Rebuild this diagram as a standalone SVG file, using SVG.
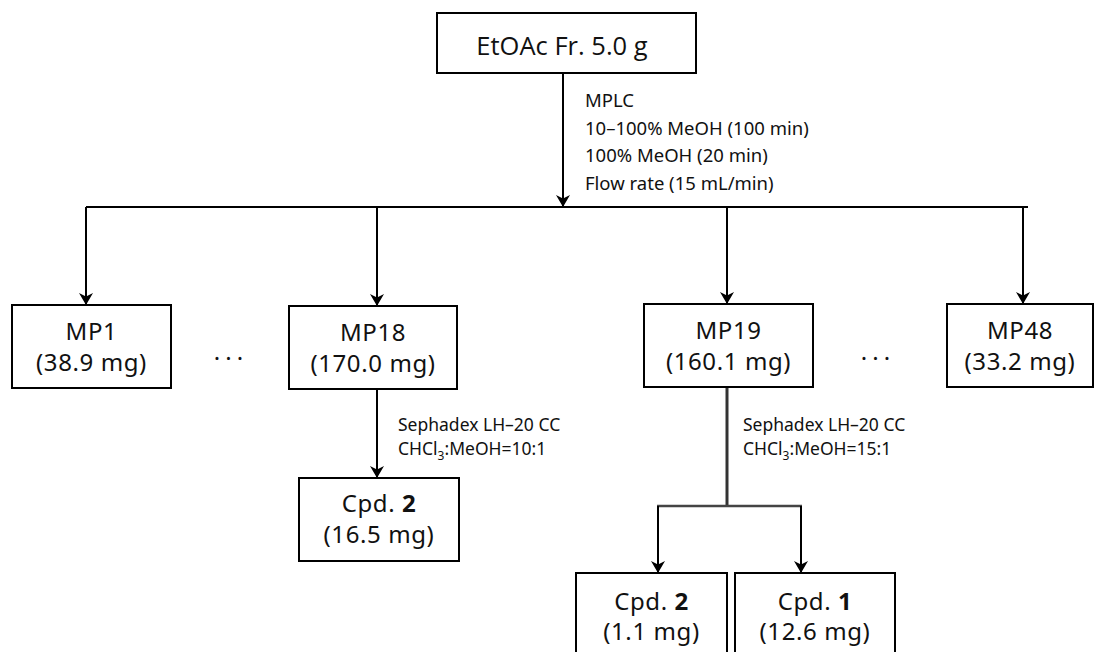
<svg xmlns="http://www.w3.org/2000/svg" width="1097" height="652" viewBox="0 0 1097 652">
<defs>
<marker id="arr" viewBox="0 0 12 14" refX="11" refY="7" markerWidth="12" markerHeight="14" markerUnits="userSpaceOnUse" orient="auto">
<path d="M0,0 L12,7 L0,14 L3.5,7 Z" fill="#000"/>
</marker>
<style>
.box{fill:#fff;stroke:#000;stroke-width:2}
.t{font-family:"Noto Sans","DejaVu Sans",sans-serif;font-size:24px;fill:#111;text-anchor:middle;letter-spacing:0.6px}
.top{font-family:"Open Sans","Liberation Sans",sans-serif;font-size:25.5px;fill:#111;text-anchor:middle}
.c{font-family:"Noto Sans","DejaVu Sans",sans-serif;font-size:18.5px;fill:#111}
.s{font-family:"Noto Sans","DejaVu Sans",sans-serif;font-size:17.5px;fill:#111}
.ln{fill:none;stroke:#000;stroke-width:2}
.dots{font-family:"Noto Sans","DejaVu Sans",sans-serif;font-size:24px;fill:#111;text-anchor:middle;letter-spacing:5px}
</style>
</defs>
<g id="connectors">
<line class="ln" x1="563" y1="73" x2="563" y2="206" marker-end="url(#arr)"/>
<line class="ln" x1="86" y1="207" x2="1028" y2="207" stroke="#333"/>
<line class="ln" x1="86" y1="207" x2="86" y2="304" marker-end="url(#arr)"/>
<line class="ln" x1="377" y1="207" x2="377" y2="305" marker-end="url(#arr)"/>
<line class="ln" x1="727" y1="207" x2="727" y2="303" marker-end="url(#arr)"/>
<line class="ln" x1="1023" y1="207" x2="1023" y2="303" marker-end="url(#arr)"/>
<line class="ln" x1="377" y1="389" x2="377" y2="477" marker-end="url(#arr)"/>
<line x1="727" y1="388" x2="727" y2="506" stroke="#333" stroke-width="3"/>
<line x1="657" y1="506" x2="802" y2="506" stroke="#444" stroke-width="2.5"/>
<line class="ln" x1="658" y1="506" x2="658" y2="572" marker-end="url(#arr)"/>
<line class="ln" x1="801" y1="506" x2="801" y2="572" marker-end="url(#arr)"/>
</g>
<g id="labels">
<text class="c" x="585" y="107">MPLC</text>
<text class="c" x="585" y="135">10–100% MeOH (100 min)</text>
<text class="c" x="585" y="162">100% MeOH (20 min)</text>
<text class="c" x="585" y="190">Flow rate (15 mL/min)</text>
<text class="s" x="398" y="431">Sephadex LH–20 CC</text>
<text class="s" x="398" y="455">CHCl<tspan font-size="12" dy="5">3</tspan><tspan dy="-5">:MeOH=10:1</tspan></text>
<text class="s" x="743" y="431">Sephadex LH–20 CC</text>
<text class="s" x="743" y="455">CHCl<tspan font-size="12" dy="5">3</tspan><tspan dy="-5">:MeOH=15:1</tspan></text>
<text class="dots" x="231" y="360">...</text>
<text class="dots" x="878" y="360">...</text>
</g>
<g id="n-etoac">
<rect class="box" x="437" y="13" width="259" height="60"/>
<text class="top" x="562" y="55">EtOAc Fr. 5.0 g</text>
</g>
<g id="n-mp1">
<rect class="box" x="12" y="305" width="159" height="83"/>
<text class="t" x="91.5" y="340">MP1</text>
<text class="t" x="91.5" y="371">(38.9 mg)</text>
</g>
<g id="n-mp18">
<rect class="box" x="289" y="306" width="168" height="83"/>
<text class="t" x="373" y="341">MP18</text>
<text class="t" x="373" y="372">(170.0 mg)</text>
</g>
<g id="n-mp19">
<rect class="box" x="644" y="304" width="169" height="83"/>
<text class="t" x="728.5" y="339">MP19</text>
<text class="t" x="728.5" y="370">(160.1 mg)</text>
</g>
<g id="n-mp48">
<rect class="box" x="947" y="304" width="146" height="83"/>
<text class="t" x="1020" y="339">MP48</text>
<text class="t" x="1020" y="370">(33.2 mg)</text>
</g>
<g id="n-cpd2a">
<rect class="box" x="299" y="478" width="160" height="83"/>
<text class="t" x="379" y="512">Cpd. <tspan font-weight="bold">2</tspan></text>
<text class="t" x="379" y="543">(16.5 mg)</text>
</g>
<g id="n-cpd2b">
<rect class="box" x="576" y="573" width="151" height="84"/>
<text class="t" x="651.5" y="610">Cpd. <tspan font-weight="bold">2</tspan></text>
<text class="t" x="651.5" y="640">(1.1 mg)</text>
</g>
<g id="n-cpd1">
<rect class="box" x="735" y="573" width="160" height="84"/>
<text class="t" x="815" y="610">Cpd. <tspan font-weight="bold">1</tspan></text>
<text class="t" x="815" y="640">(12.6 mg)</text>
</g>
</svg>
